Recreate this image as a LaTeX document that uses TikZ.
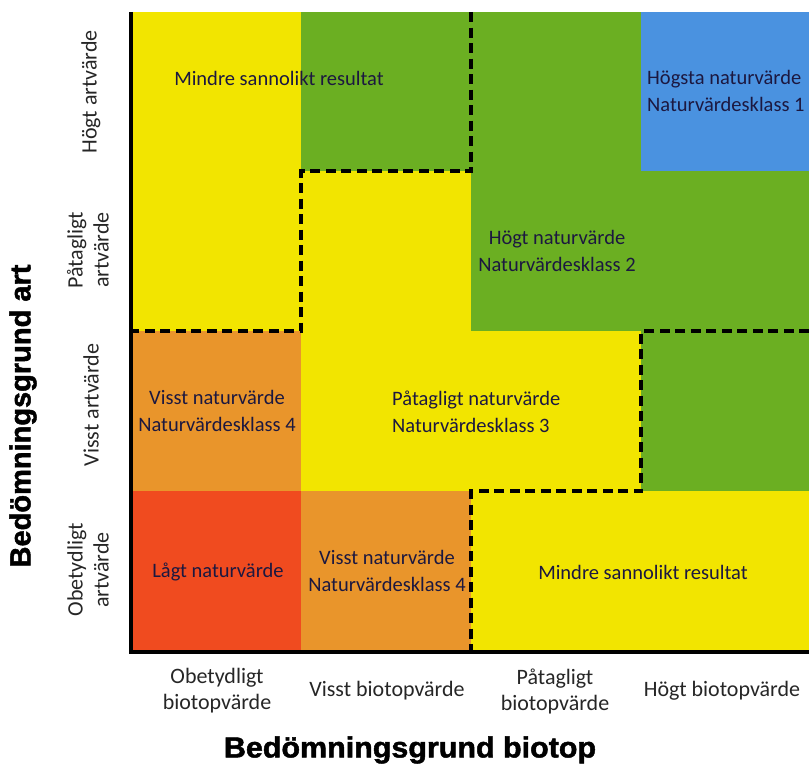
\documentclass[tikz,border=0pt]{standalone}
\usepackage{fontspec}
\setmainfont{Carlito}
\newfontfamily\titlefont[FakeBold=1.6]{Liberation Sans Bold}
\usetikzlibrary{positioning}
\definecolor{cyellow}{HTML}{F2E500}
\definecolor{cgreen}{HTML}{6BAF22}
\definecolor{cblue}{HTML}{4A92E0}
\definecolor{corange}{HTML}{E9952B}
\definecolor{cred}{HTML}{F04B1F}
\definecolor{ctext}{HTML}{1C1840}

\begin{document}
\begin{tikzpicture}[x=1pt,y=-1pt,
cell/.style={align=center,inner sep=0pt,text=ctext,font=\fontsize{20.5}{26.5}\selectfont},
axlab/.style={align=center,inner sep=0pt,text=black!85,font=\fontsize{22}{26}\selectfont},
axtitle/.style={inner sep=0pt,font=\titlefont\fontsize{29}{34}\selectfont},
border/.style={line width=3.4pt,dash pattern=on 10pt off 5.5pt}]
\useasboundingbox (0,0) rectangle (809,766);
% colour fields
\fill[cyellow] (131,12) rectangle (809,652);
\fill[cgreen] (301,12) rectangle (641,171); \fill[cgreen] (471,171) rectangle (809,331); \fill[cgreen] (641,331) rectangle (809,491);
\fill[cblue] (641,12) rectangle (809,171);
\fill[corange] (131,331) rectangle (301,491); \fill[corange] (301,491) rectangle (471,652);
\fill[cred] (131,491) rectangle (301,652);
% class borders
\draw[border] (471,12) -- (471,171) -- (301,171) -- (301,331) -- (131,331);
\draw[border] (809,331) -- (641,331) -- (641,491) -- (471,491) -- (471,652);
\draw[line width=3.4pt] (131,12) -- (131,652) -- (809,652);
% cell texts
\node[cell] (lowtop) at (279,78) {Mindre sannolikt resultat};
\node[cell,align=left,anchor=west] (nk1) at (647,91) {Högsta naturvärde\\Naturvärdesklass 1};
\node[cell] (nk2) at (557,251) {Högt naturvärde\\Naturvärdesklass 2};
\node[cell] (nk4a) at (217,411) {Visst naturvärde\\Naturvärdesklass 4};
\node[cell,align=left,anchor=west] (nk3) at (392,412) {Påtagligt naturvärde\\Naturvärdesklass 3};
\node[cell] (low) at (218,572) {Lågt naturvärde};
\node[cell] (nk4b) at (387,571) {Visst naturvärde\\Naturvärdesklass 4};
\node[cell] (lowbot) at (643,572) {Mindre sannolikt resultat};
% axis labels
\node[axlab] (b1) at (217,691) {Obetydligt\\biotopvärde};
\node[axlab] (b2) at (387,691) {Visst biotopvärde};
\node[axlab] (b3) at (555,691) {Påtagligt\\biotopvärde};
\node[axlab] (b4) at (722,691) {Högt biotopvärde};
\node[axlab,rotate=90] (a4) at (91,92) {Högt artvärde};
\node[axlab,rotate=90] (a3) at (88,250) {Påtagligt\\artvärde};
\node[axlab,rotate=90] (a2) at (91,405) {Visst artvärde};
\node[axlab,rotate=90] (a1) at (88,570) {Obetydligt\\artvärde};
\node[axtitle,xscale=1.05] (biotop) at (410,750) {Bedömningsgrund biotop};
\node[axtitle,rotate=90] (art) at (23,416) {Bedömningsgrund art};
\end{tikzpicture}
\end{document}
